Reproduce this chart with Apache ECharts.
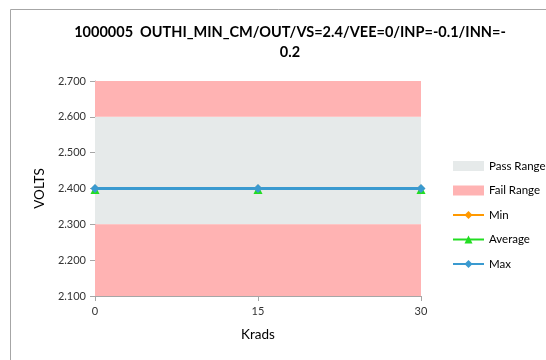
<!DOCTYPE html>
<html><head><meta charset="utf-8">
<script src="https://cdn.jsdelivr.net/npm/echarts@6/dist/echarts.min.js"></script>
<style>html,body{margin:0;padding:0;background:#fff}#c{width:546px;height:360px}</style>
</head><body><div id="c"></div>
<script>
const titleText = "1000005  OUTHI_MIN_CM/OUT/VS=2.4/VEE=0/INP=-0.1/INN=-\n0.2";
const xValues = [0, 15, 30];
const minValues = [2.4, 2.4, 2.4];
const avgValues = [2.4, 2.4, 2.4];
const maxValues = [2.4, 2.4, 2.4];
const yMin = 2.1, yMax = 2.7, yStep = 0.1;
const passRange = [2.3, 2.6];
const failRanges = [[2.1, 2.3], [2.6, 2.7]];
const font = "Lato, 'Open Sans', sans-serif";

const chart = echarts.init(document.getElementById('c'), null, {renderer: 'canvas'});
const pts = v => xValues.map((x, i) => [x, v[i]]);
chart.setOption({
  animation: false,
  backgroundColor: '#fff',
  title: {
    text: titleText, left: 290, top: 22, textAlign: 'center', padding: 0,
    textStyle: {fontFamily: font, fontSize: 14.5, fontWeight: 'bold', color: '#000', lineHeight: 20}
  },
  graphic: [
    {type: 'polyline', shape: {points: [[10.5, 360], [10.5, 9.5], [546, 9.5]]}, style: {stroke: '#a6a6a6', lineWidth: 1, fill: null}}
  ],
  legend: {
    orient: 'vertical', left: 452, top: 160, padding: 0, itemGap: 12.5, itemWidth: 31, itemHeight: 10,
    textStyle: {fontFamily: font, fontSize: 11.5, color: '#000'},
    data: [
      {name: 'Pass Range', icon: 'rect', itemStyle: {color: '#e6eaea'}},
      {name: 'Fail Range', icon: 'rect', itemStyle: {color: '#ffb3b3'}},
      {name: 'Min'}, {name: 'Average'}, {name: 'Max'}
    ]
  },
  grid: {left: 95, right: 125, top: 81, bottom: 64},
  xAxis: {
    type: 'value', min: 0, max: 30, interval: 15,
    name: 'Krads', nameLocation: 'middle', nameGap: 32,
    nameTextStyle: {fontFamily: font, fontSize: 13.5, color: '#000'},
    axisLine: {show: true, lineStyle: {color: '#a6a6a6'}},
    axisTick: {show: true, length: 5, lineStyle: {color: '#a6a6a6'}},
    axisLabel: {fontFamily: font, fontSize: 11, color: '#333', margin: 10},
    splitLine: {show: false}
  },
  yAxis: {
    type: 'value', min: yMin, max: yMax, interval: yStep,
    name: 'VOLTS', nameLocation: 'middle', nameGap: 48,
    nameTextStyle: {fontFamily: font, fontSize: 13.5, color: '#000'},
    axisLine: {show: true, lineStyle: {color: '#a6a6a6'}},
    axisTick: {show: true, length: 5, lineStyle: {color: '#a6a6a6'}},
    axisLabel: {fontFamily: font, fontSize: 11, color: '#333', margin: 9, formatter: v => v.toFixed(3)},
    splitLine: {show: false}
  },
  series: [
    {name: 'Pass Range', type: 'line', data: [], itemStyle: {color: '#e6eaea'},
     markArea: {silent: true, itemStyle: {color: '#e6eaea'}, data: [[{yAxis: passRange[0]}, {yAxis: passRange[1]}]]}},
    {name: 'Fail Range', type: 'line', data: [], itemStyle: {color: '#ffb3b3'},
     markArea: {silent: true, itemStyle: {color: '#ffb3b3'}, data: failRanges.map(r => [{yAxis: r[0]}, {yAxis: r[1]}])}},
    {name: 'Min', type: 'line', data: pts(minValues), symbol: 'diamond', symbolSize: 8,
     lineStyle: {width: 3, color: '#ff9900'}, itemStyle: {color: '#ff9900'}},
    {name: 'Average', type: 'line', data: pts(avgValues), symbol: 'triangle', symbolSize: 9, symbolOffset: [0, 1],
     lineStyle: {width: 3, color: '#22dd22'}, itemStyle: {color: '#22dd22'}},
    {name: 'Max', type: 'line', data: pts(maxValues), symbol: 'diamond', symbolSize: 9,
     lineStyle: {width: 3, color: '#3a9ad0'}, itemStyle: {color: '#3a9ad0'}}
  ]
});
</script></body></html>
